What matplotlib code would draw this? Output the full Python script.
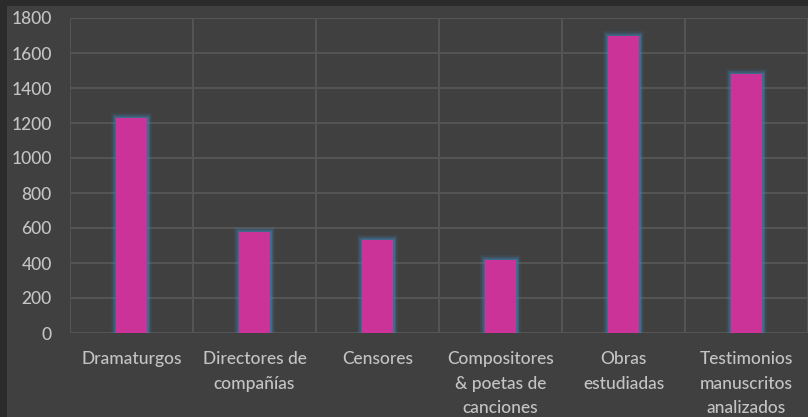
import matplotlib
matplotlib.use("Agg")
import matplotlib.pyplot as plt
from matplotlib.patches import Rectangle

categories = ["Dramaturgos", "Directores de\ncompañías", "Censores",
              "Compositores\n& poetas de\ncanciones", "Obras\nestudiadas",
              "Testimonios\nmanuscritos\nanalizados"]
values = [1230, 580, 530, 420, 1700, 1480]
yticks = [0, 200, 400, 600, 800, 1000, 1200, 1400, 1600, 1800]

W, H = 808, 417
fig = plt.figure(figsize=(W / 100, H / 100), dpi=100, facecolor="#2b2b2b")
fig.patches.append(Rectangle((7 / W, 0), 1 - 7 / W, 1 - 6 / H, transform=fig.transFigure,
                             facecolor="#404040", edgecolor="none", zorder=-10))

ax = fig.add_axes([70 / W, 1 - 333 / H, 1 - 70 / W, (333 - 18) / H])
ax.set_zorder(5)
ax.patch.set_alpha(0)

x = list(range(len(categories)))
bw = 0.26
# glow
for lw, a in [(7, 0.12), (4.5, 0.25), (2.5, 0.45)]:
    ax.bar(x, values, width=bw, color="none", edgecolor="#3f86b8", linewidth=lw, alpha=a, zorder=2)
ax.bar(x, values, width=bw, color="#cc3399", edgecolor="none", zorder=3)

ax.set_xlim(-0.5, len(categories) - 0.5)
ax.set_ylim(0, 1800)
ax.set_yticks(yticks)
ax.set_xticks(x)
ax.set_xticklabels(categories, linespacing=1.65)
ax.set_xticks([i - 0.5 for i in range(len(categories) + 1)], minor=True)
ax.grid(True, axis="y", which="major", color="#545454", linewidth=1.5, zorder=1)
ax.grid(True, axis="x", which="minor", color="#545454", linewidth=1.5, zorder=1)
for s in ax.spines.values():
    s.set_visible(False)
ax.tick_params(axis="both", which="both", length=0, colors="#c4c4c4")
for lab in ax.get_xticklabels() + ax.get_yticklabels():
    lab.set_fontfamily("Lato")
    lab.set_fontsize(12.5)
    lab.set_fontweight("medium")
    lab.set_color("#c4c4c4")
ax.tick_params(axis="x", pad=13)
ax.tick_params(axis="y", pad=13)
ax.set_axisbelow(True)

fig.savefig("out.png", dpi=100, facecolor=fig.get_facecolor())
